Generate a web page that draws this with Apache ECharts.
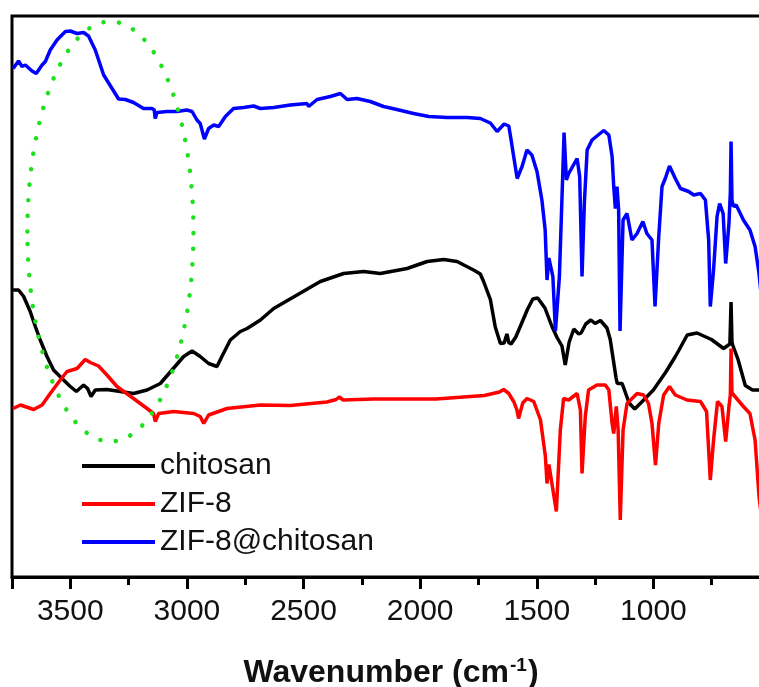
<!DOCTYPE html>
<html>
<head>
<meta charset="utf-8">
<script src="https://cdn.jsdelivr.net/npm/echarts@6/dist/echarts.min.js"></script>
<style>
  html, body { margin: 0; padding: 0; background: #ffffff; }
  #chart { width: 759px; height: 687px; }
</style>
</head>
<body>
<div id="chart"></div>
<script>
// FTIR spectra: [wavenumber (cm-1), transmittance (a.u., offset per trace)]
const chitosan = [
  [3745, 57.4], [3722, 57.4], [3700, 56.1], [3672, 53.1], [3650, 50.1], [3629, 47.4],
  [3600, 44.1], [3572, 41.4], [3529, 39.4], [3500, 38.1], [3474, 37.1], [3443, 38.4],
  [3426, 37.7], [3411, 36.1], [3393, 37.4], [3343, 37.5], [3286, 37.1], [3229, 36.7],
  [3171, 37.4], [3114, 38.7], [3064, 41.4], [3014, 44.1], [2978, 45.2], [2943, 44.1],
  [2907, 42.7], [2871, 42.1], [2850, 44.1], [2814, 47.4], [2771, 49.1], [2742, 49.7],
  [2685, 51.4], [2628, 53.7], [2528, 56.4], [2428, 59.1], [2328, 60.7], [2242, 61.1],
  [2171, 60.7], [2056, 61.7], [1970, 63.1], [1899, 63.5], [1842, 63.1], [1771, 61.4],
  [1742, 60.6], [1728, 59.1], [1699, 55.5], [1678, 50.0], [1656, 46.7], [1640, 46.8],
  [1628, 48.6], [1620, 46.9], [1610, 46.6], [1590, 48.0], [1569, 50.3], [1540, 53.5],
  [1517, 55.6], [1496, 55.8], [1465, 53.8], [1434, 50.0], [1413, 47.9], [1392, 46.2],
  [1378, 42.4], [1361, 47.0], [1341, 49.6], [1320, 48.6], [1310, 48.8], [1290, 50.6],
  [1268, 51.4], [1250, 50.7], [1227, 51.3], [1199, 49.8], [1185, 47.5], [1175, 44.4],
  [1160, 39.8], [1155, 38.7], [1134, 38.7], [1104, 34.8], [1080, 33.6], [1050, 35.0],
  [1000, 37.4], [948, 40.9], [907, 44.0], [890, 45.4], [855, 48.4], [813, 48.8],
  [751, 47.5], [699, 45.7], [672, 46.6], [667, 55.0], [663, 47.0], [660, 46.4],
  [637, 43.5], [606, 38.3], [575, 37.4], [547, 37.4], [540, 37.2]
];

const zif8 = [
  [3745, 33.7], [3714, 34.4], [3657, 33.5], [3621, 34.4], [3586, 36.7], [3543, 39.4],
  [3514, 41.1], [3471, 41.7], [3436, 43.5], [3414, 42.9], [3379, 42.2], [3343, 40.4],
  [3300, 38.1], [3229, 35.7], [3171, 33.7], [3143, 32.7], [3136, 31.1], [3121, 32.7],
  [3057, 33.1], [2971, 32.7], [2943, 32.1], [2928, 30.7], [2907, 32.4], [2828, 33.7],
  [2685, 34.4], [2557, 34.3], [2400, 35.0], [2360, 35.5], [2347, 36.0], [2330, 35.4],
  [2200, 35.6], [1932, 35.6], [1725, 36.3], [1660, 37.0], [1642, 37.5], [1620, 36.7],
  [1598, 35.0], [1585, 33.4], [1578, 31.7], [1560, 34.8], [1542, 35.7], [1513, 35.1],
  [1484, 31.4], [1463, 24.1], [1456, 18.7], [1448, 22.5], [1442, 22.1], [1416, 13.1],
  [1399, 29.4], [1385, 35.7], [1363, 35.4], [1327, 36.7], [1313, 33.4], [1306, 20.7],
  [1292, 32.1], [1278, 37.4], [1242, 38.4], [1206, 38.4], [1191, 37.4], [1177, 30.7],
  [1170, 28.7], [1159, 34.1], [1151, 29.4], [1142, 11.4], [1130, 29.4], [1113, 34.7],
  [1070, 36.7], [1042, 36.4], [1021, 34.7], [1006, 30.7], [991, 22.4], [977, 30.7],
  [956, 36.4], [931, 38.1], [906, 36.4], [856, 35.4], [798, 35.1], [772, 33.1],
  [756, 19.4], [742, 27.4], [725, 35.1], [706, 34.1], [690, 27.1], [676, 34.1],
  [670, 36.4], [667, 45.7], [663, 36.8], [657, 36.7], [614, 34.1], [586, 32.7],
  [564, 27.4], [547, 16.1], [540, 13.4]
];

const zif8Chitosan = [
  [3745, 101.7], [3722, 103.2], [3707, 102.1], [3693, 102.4], [3664, 101.2], [3646, 100.7],
  [3621, 102.4], [3607, 103.1], [3586, 105.4], [3557, 107.4], [3521, 109.1], [3500, 109.2],
  [3471, 108.7], [3443, 108.9], [3422, 108.2], [3393, 105.4], [3357, 100.4], [3321, 97.7],
  [3293, 95.6], [3264, 95.5], [3229, 94.9], [3186, 93.7], [3150, 93.7], [3140, 93.4],
  [3136, 91.7], [3128, 92.9], [3085, 93.1], [3043, 93.1], [3000, 93.4], [2978, 93.1],
  [2957, 91.4], [2943, 90.7], [2925, 87.6], [2907, 89.7], [2885, 90.4], [2864, 90.1],
  [2835, 92.1], [2800, 93.7], [2757, 93.9], [2714, 94.2], [2685, 93.7], [2628, 93.9],
  [2557, 94.4], [2485, 94.7], [2478, 94.1], [2442, 95.5], [2385, 96.1], [2342, 96.7],
  [2313, 95.5], [2271, 95.7], [2214, 95.1], [2157, 94.1], [2100, 93.5], [2028, 92.7],
  [1963, 92.1], [1885, 91.9], [1799, 91.9], [1742, 91.7], [1728, 91.4], [1699, 90.8],
  [1670, 89.1], [1640, 90.6], [1620, 90.2], [1610, 87.4], [1599, 84.1], [1584, 79.7],
  [1563, 82.1], [1542, 85.4], [1521, 84.4], [1499, 81.1], [1478, 75.4], [1464, 69.4],
  [1456, 59.4], [1448, 63.8], [1442, 63.7], [1431, 60.1], [1420, 49.2], [1403, 60.1],
  [1388, 81.4], [1383, 88.9], [1373, 79.4], [1363, 80.7], [1327, 83.7], [1316, 80.1],
  [1306, 60.1], [1296, 74.7], [1284, 85.4], [1263, 87.4], [1213, 89.3], [1191, 88.4],
  [1177, 84.1], [1170, 78.1], [1163, 73.7], [1156, 78.1], [1149, 73.4], [1143, 49.2],
  [1130, 71.4], [1113, 72.7], [1092, 67.4], [1070, 68.7], [1045, 71.1], [1028, 68.7],
  [1006, 67.4], [993, 54.1], [977, 68.1], [963, 78.1], [949, 79.7], [931, 82.2],
  [906, 79.7], [884, 77.7], [849, 77.1], [827, 76.4], [798, 76.7], [777, 75.4],
  [763, 67.4], [756, 54.1], [742, 61.4], [727, 72.1], [716, 74.7], [701, 72.7],
  [690, 62.7], [676, 70.7], [670, 77.0], [667, 87.1], [663, 75.4], [657, 74.1],
  [645, 74.4], [614, 71.4], [586, 69.4], [564, 66.1], [547, 60.7], [540, 57.4]
];

const seriesNames = ['chitosan', 'ZIF-8', 'ZIF-8@chitosan'];
const seriesColors = ['#000000', '#ff0000', '#0000ff'];
const xTickLabels = [3500, 3000, 2500, 2000, 1500, 1000];

// dotted ellipse marking the O–H / N–H stretching region (data units)
const highlightRegion = { center: [3328, 69.1], halfWidth: 356, halfHeight: 42 };

const FONT = '"Liberation Sans", Arial, sans-serif';

const chart = echarts.init(document.getElementById('chart'), null, { renderer: 'canvas' });

const baseX = {
  type: 'value',
  inverse: true,
  min: 500,
  max: 3750,
  gridIndex: 0,
  position: 'bottom',
  splitLine: { show: false }
};

chart.setOption({
  animation: false,
  backgroundColor: '#ffffff',
  grid: {
    left: 12, top: 16, width: 758, height: 561,
    outerBoundsMode: 'none',
    containLabel: false,
    show: true, borderColor: '#000000', borderWidth: 3, backgroundColor: 'transparent'
  },
  legend: {
    orient: 'vertical',
    left: 82, top: 451,
    padding: 0,
    itemWidth: 73, itemHeight: 4, itemGap: 8,
    icon: 'rect',
    data: seriesNames,
    textStyle: { fontSize: 30, fontFamily: FONT, color: '#111111', lineHeight: 30 }
  },
  xAxis: [
    Object.assign({}, baseX, {
      interval: 250,
      axisLine: { show: true, lineStyle: { color: '#000000', width: 3 } },
      axisTick: { show: true, length: 8, lineStyle: { color: '#000000', width: 3 } },
      axisLabel: {
        show: true, margin: 20, fontSize: 30, fontFamily: FONT, color: '#111111',
        formatter: v => (xTickLabels.indexOf(v) >= 0 ? String(v) : '')
      },
      name: '{t|Wavenumber (cm}{s|-1}{t|)}',
      nameLocation: 'middle',
      nameGap: 79,
      nameTextStyle: {
        rich: {
          t: { fontSize: 32, fontWeight: 'bold', fontFamily: FONT, color: '#111111', lineHeight: 34 },
          s: { fontSize: 19, fontWeight: 'bold', fontFamily: FONT, color: '#111111', lineHeight: 34, verticalAlign: 'top', padding: [0, 1, 0, 1] }
        }
      }
    }),
    Object.assign({}, baseX, {
      interval: 500,
      axisLine: { show: false },
      axisTick: { show: true, length: 12, lineStyle: { color: '#000000', width: 3 } },
      axisLabel: { show: false }
    })
  ],
  yAxis: {
    type: 'value',
    min: 0,
    max: 112.2,
    axisLine: { show: false },
    axisTick: { show: false },
    axisLabel: { show: false },
    splitLine: { show: false }
  },
  series: [chitosan, zif8, zif8Chitosan].map((d, i) => ({
    name: seriesNames[i],
    type: 'line',
    xAxisIndex: 0,
    data: d,
    showSymbol: false,
    symbol: 'none',
    lineStyle: { color: seriesColors[i], width: 3.5 },
    itemStyle: { color: seriesColors[i] },
    z: 2 + i
  }))
});

// dotted green ellipse positioned through the axis scales
const c = chart.convertToPixel({ gridIndex: 0 }, highlightRegion.center);
const e = chart.convertToPixel({ gridIndex: 0 }, [
  highlightRegion.center[0] - highlightRegion.halfWidth,
  highlightRegion.center[1] + highlightRegion.halfHeight
]);
chart.setOption({
  graphic: [{
    type: 'ellipse',
    z: 100,
    shape: { cx: c[0], cy: c[1], rx: Math.abs(e[0] - c[0]), ry: Math.abs(c[1] - e[1]) },
    style: { fill: 'none', stroke: '#1fe01f', lineWidth: 4.5, lineDash: [0.1, 15.5], lineCap: 'round' }
  }]
});
</script>
</body>
</html>
